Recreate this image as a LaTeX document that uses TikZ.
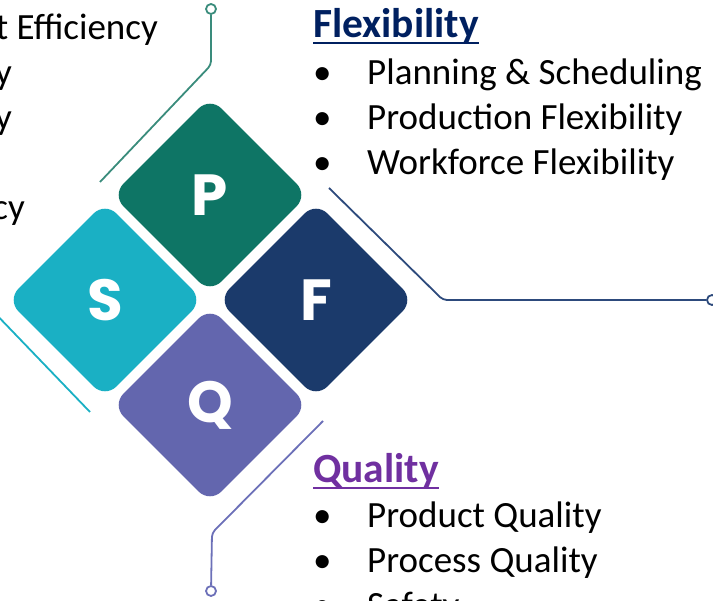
\documentclass[tikz,border=0pt]{standalone}
\usepackage{fontspec}
\setmainfont{Carlito}
\newfontfamily\letterfont{Poppins}
\usetikzlibrary{shapes.geometric, positioning}
\definecolor{pgreen}{RGB}{14,117,101}
\definecolor{scyan}{RGB}{26,176,196}
\definecolor{fnavy}{RGB}{27,58,107}
\definecolor{qviolet}{RGB}{99,102,174}
\definecolor{glink}{RGB}{58,140,124}
\definecolor{flink}{RGB}{45,74,124}
\definecolor{qlink}{RGB}{108,112,184}
\definecolor{flexhead}{RGB}{0,32,96}
\definecolor{qualhead}{RGB}{112,48,160}

\begin{document}
\begin{tikzpicture}[
  x=1pt, y=-1pt,
  tile/.style={diamond, aspect=1, minimum size=196pt, inner sep=0, rounded corners=16pt,
    text=white, font=\letterfont\bfseries\fontsize{58}{58}\selectfont},
  ring/.style={circle, draw, fill=white, line width=1.8pt, minimum size=10pt, inner sep=0},
  link/.style={line width=1.8pt, rounded corners=4pt},
  head/.style={anchor=base west, inner sep=0, font=\bfseries\fontsize{41.5}{41.5}\selectfont},
  item/.style={anchor=base west, inner sep=0, font=\fontsize{37}{37}\selectfont},
  cut/.style={anchor=base east, inner sep=0, font=\fontsize{37}{37}\selectfont}
]
\useasboundingbox (0,0) rectangle (713,601);
\clip (0,0) rectangle (713,601);

\node[tile, fill=pgreen] (P) at (210,195) {P};
\node[tile, fill=fnavy] (F) at (316,300) {F};
\node[tile, fill=qviolet] (Q) at (210,405) {Q};
\node[tile, fill=scyan] (S) at (105,300) {S};

\node[ring, draw=glink] (gring) at (211,9) {};
\coordinate (gbend) at (211,65);
\coordinate (gend) at (100,182);
\draw[link, glink] (gring) -- (gbend) -- (gend);

\coordinate (fstart) at (329,188);
\coordinate (fbend) at (443,300);
\node[ring, draw=flink] (fring) at (712,300) {};
\draw[link, flink] (fstart) -- (fbend) -- (fring);

\coordinate (qstart) at (323,421);
\coordinate (qbend) at (212,533);
\node[ring, draw=qlink] (qring) at (211,591) {};
\draw[link, qlink] (qstart) -- (qbend) -- (qring);

\coordinate (sstart) at (-10,308);
\coordinate (send) at (90,412);
\draw[link, scyan] (sstart) -- (send);

\node[head, text=flexhead] (flex) at (313,38) {Flexibility};
\draw[flexhead, line width=2.5pt] ([yshift=-5pt]flex.base west) -- ([yshift=-5pt]flex.base east);
\node[item] (flex1) at (313,85) {\makebox[54pt][l]{\textbullet}Planning \& Scheduling};
\node[item] (flex2) at (313,130) {\makebox[54pt][l]{\textbullet}Production Flexibility};
\node[item] (flex3) at (313,175) {\makebox[54pt][l]{\textbullet}Workforce Flexibility};

\node[head, text=qualhead] (qual) at (313,483) {Quality};
\draw[qualhead, line width=2.5pt] ([yshift=-5pt]qual.base west) -- ([yshift=-5pt]qual.base east);
\node[item] (qual1) at (313,528) {\makebox[54pt][l]{\textbullet}Product Quality};
\node[item] (qual2) at (313,573) {\makebox[54pt][l]{\textbullet}Process Quality};
\node[item] (qual3) at (313,618) {\makebox[54pt][l]{\textbullet}Safety};

\node[cut] (left1) at (158,40) {t Efficiency};
\node[cut] (left2) at (12,85) {y};
\node[cut] (left3) at (12,130) {y};
\node[cut] (left5) at (25,220) {cy};
\end{tikzpicture}
\end{document}
